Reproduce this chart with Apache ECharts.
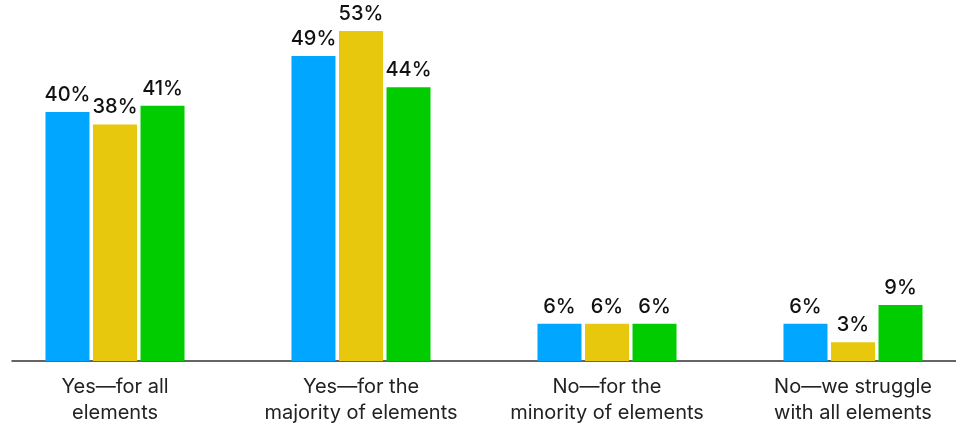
<!DOCTYPE html>
<html><head><meta charset="utf-8">
<script src="https://cdn.jsdelivr.net/npm/echarts@6/dist/echarts.min.js"></script>
<style>html,body{margin:0;padding:0;background:#fff}#c{width:956px;height:425px}</style>
</head><body><div id="c"></div>
<script>
const categories = ["Yes—for all\nelements", "Yes—for the\nmajority of elements", "No—for the\nminority of elements", "No—we struggle\nwith all elements"];
const seriesA = [40, 49, 6, 6];
const seriesB = [38, 53, 6, 3];
const seriesC = [41, 44, 6, 9];
const colors = ["#00a6ff", "#e8c80c", "#00cc00"];

const chart = echarts.init(document.getElementById('c'));
const lbl = {show: true, position: 'top', distance: 7, formatter: '{c}%', color: '#111', fontFamily: 'Inter', fontSize: 20, fontWeight: 500};
function mk(name, data, color) {
  return {name, type: 'bar', data, barWidth: 44, barGap: '8%', itemStyle: {color}, label: lbl, clip: false, xAxisIndex: 0, yAxisIndex: 0};
}
chart.setOption({
  animation: false,
  grid: [
    {left: -8, right: -20, top: 0, bottom: 64, containLabel: false, outerBoundsMode: 'none'},
    {left: 12, right: 0, top: 0, bottom: 64, containLabel: false, outerBoundsMode: 'none'}
  ],
  xAxis: [
    {type: 'category', data: categories, gridIndex: 0, axisLine: {show: false}, axisTick: {show: false},
     axisLabel: {color: '#222', fontFamily: 'Inter', fontSize: 20, lineHeight: 26, margin: 13, interval: 0}},
    {type: 'category', data: categories, gridIndex: 1, axisLine: {lineStyle: {color: '#333', width: 1.5}}, axisTick: {show: false}, axisLabel: {show: false}}
  ],
  yAxis: [
    {type: 'value', min: 0, max: 58, gridIndex: 0, show: false, splitLine: {show: false}},
    {type: 'value', min: 0, max: 58, gridIndex: 1, show: false, splitLine: {show: false}}
  ],
  series: [mk('A', seriesA, colors[0]), mk('B', seriesB, colors[1]), mk('C', seriesC, colors[2])]
});
</script></body></html>
